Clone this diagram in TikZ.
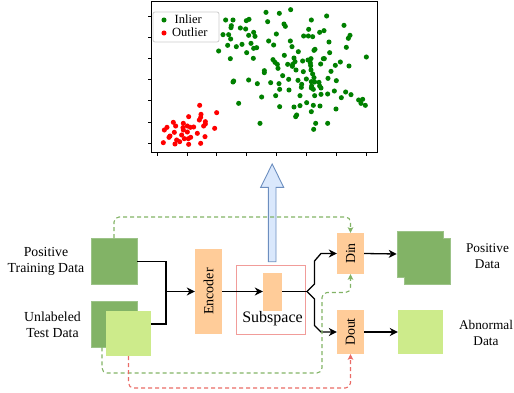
\documentclass[tikz,border=0pt]{standalone}
\usepackage{fontspec}
\setmainfont{Liberation Serif}
\usetikzlibrary{arrows.meta,calc}
\definecolor{dg}{HTML}{82B366}
\definecolor{dgb}{HTML}{9CC388}
\definecolor{lg}{HTML}{CDEB8B}
\definecolor{orf}{HTML}{FFCC99}
\definecolor{pk}{HTML}{F19C99}
\definecolor{rd}{HTML}{EA6B66}
\definecolor{bfill}{HTML}{DAE8FC}
\definecolor{bdraw}{HTML}{6C8EBF}
\definecolor{ptg}{HTML}{008000}
\definecolor{ptr}{HTML}{FF0000}
\tikzset{
  datbox/.style={rectangle, inner sep=0pt, minimum width=46pt, minimum height=46pt, fill=dg, draw=dgb, line width=0.6pt},
  lgbox/.style={rectangle, inner sep=0pt, minimum width=45pt, minimum height=45pt, fill=lg},
  orbox/.style={rectangle, inner sep=0pt, fill=orf, text=black},
  lbl/.style={align=center, inner sep=0pt, font=\fontsize{13.8}{16}\selectfont},
  rlbl/.style={align=center, inner sep=0pt, font=\fontsize{13.3}{16}\selectfont},
  ln/.style={line width=1.3pt},
  arr/.style={line width=1.3pt, -{Stealth[length=8pt,width=8pt,inset=2.5pt]}},
  gdash/.style={draw=dg, line width=1.1pt, dash pattern=on 4pt off 3pt, rounded corners=5pt, -{Stealth[length=5.5pt,width=5.5pt,inset=1pt]}},
  rdash/.style={draw=rd, line width=1.1pt, dash pattern=on 4pt off 3pt, rounded corners=5pt, -{Stealth[length=5.5pt,width=5.5pt,inset=1pt]}},
  tick/.style={line width=0.8pt}
}
\begin{document}
\begin{tikzpicture}[x=1pt,y=-1pt]
\useasboundingbox (0,0) rectangle (514,393);
% ---------- scatter plot ----------
\draw[line width=1pt] (151,1.5) rectangle (377,153);
\foreach \t in {16,37.2,58.4,79.6,100.8,122,143.2}
  \draw[tick] (151,\t) -- (147.5,\t);
\foreach \t in {157,186.9,216.8,246.7,276.6,306.5,336.4,366.3}
  \draw[tick] (\t,153) -- (\t,156.5);
\begin{scope}[shift={(140,0)},x=0.33333pt,y=-0.33333pt]
\foreach \a/\b in {378/37, 418/40, 452/29, 560/48, 514/60, 257/60, 279/60, 319/62, 327/58, 383/65, 432/72, 436/79, 612/76, 274/77, 273/83, 301/84, 317/87, 227/108, 249/104, 266/104, 272/117, 326/106, 341/97, 345/109, 409/102, 491/108, 505/108, 518/110, 539/97, 552/92, 506/88, 630/106, 625/115, 451/123, 386/123, 401/135, 263/136, 289/140, 306/133, 333/130, 341/145, 350/143, 567/126, 619/142, 236/153, 320/158, 456/140, 475/155, 522/151, 525/148, 569/158, 271/176, 340/175, 433/166, 462/174, 399/179, 405/187, 414/205, 412/193, 443/193, 458/193, 465/185, 457/199, 468/210, 488/183, 504/180, 513/176, 511/189, 512/197, 550/176, 553/176, 542/192, 586/196, 601/186, 627/198, 679/171, 373/212, 373/218, 428/227, 490/215, 513/210, 518/222, 522/233, 499/237, 573/214, 524/246, 281/243, 279/246, 326/240, 352/251, 392/248, 417/251, 446/238, 474/241, 485/253, 514/245, 515/258, 537/247, 539/258, 564/235, 589/242, 419/268, 447/270, 484/262, 514/264, 520/268, 543/264, 563/282, 583/273, 617/276, 633/284, 407/287, 365/291, 524/287, 604/293, 543/283, 480/287, 296/310, 419/320, 462/321, 480/317, 500/308, 520/316, 540/318, 514/335, 588/327, 656/300, 668/298, 663/310, 676/316, 467/350, 470/345, 527/370, 563/370, 360/370, 521/388}
  \fill[ptg] (\a,\b) circle[radius=2.55pt];
\foreach \a/\b in {179/316, 230/338, 183/343, 182/352, 146/350, 100/367, 130/370, 178/360, 196/365, 196/372, 191/378, 81/382, 73/390, 107/378, 129/383, 142/378, 151/382, 161/381, 130/390, 142/396, 224/385, 172/400, 195/410, 90/408, 103/397, 125/405, 152/412, 70/428, 105/432, 119/425, 146/433, 182/430, 145/416, 133/416, 110/420, 87/412}
  \fill[ptr] (\a,\b) circle[radius=2.55pt];
\end{scope}
% legend
\draw[black!20, fill=white, line width=0.8pt, rounded corners=2pt] (153,12) rectangle (219,42);
\fill[ptg] (164,20) circle[radius=2.55pt];
\fill[ptr] (164,33) circle[radius=2.55pt];
\node[anchor=west, inner sep=0pt, font=\fontsize{12.5}{14}\selectfont] (lin) at (174.5,19.5) {Inlier};
\node[anchor=west, inner sep=0pt, font=\fontsize{12.5}{14}\selectfont] (lout) at (172,32.5) {Outlier};
% ---------- big arrow ----------
\draw[bdraw, fill=bfill, line width=0.9pt, line join=miter]
  (268.3,261.7) -- (268.3,187.3) -- (260.7,187.3) -- (272.2,164) -- (283.7,187.3) -- (276,187.3) -- (276,261.7) -- cycle;
% ---------- pipeline ----------
\node[datbox] (ptd) at (114,261.5) {};
\node[datbox] (utd) at (114,324) {};
\node[lgbox] (lb) at (128.5,333.5) {};
\node[lbl] (ptdl) at (46,261) {Positive\\Training Data};
\node[lbl] (utdl) at (52.5,325) {Unlabeled\\Test Data};
\node[orbox, minimum width=27pt, minimum height=85pt] (enc) at (208.5,291.5) {\rotatebox{90}{\fontsize{14}{16}\selectfont Encoder}};
\node[rectangle, draw=pk, line width=1pt, minimum width=69pt, minimum height=69pt, inner sep=0pt] (sub) at (270.5,299.5) {};
\node[orbox, minimum width=19pt, minimum height=38pt] (sm) at (272.5,291.5) {};
\node[inner sep=0pt, font=\fontsize{16}{18}\selectfont] (subl) at (272.5,318.5) {Subspace};
\node[orbox, minimum width=27pt, minimum height=41pt] (din) at (350.5,253.5) {\rotatebox{90}{\fontsize{13.8}{16}\selectfont Din}};
\node[orbox, minimum width=27pt, minimum height=44pt] (dout) at (350.5,332) {\rotatebox{90}{\fontsize{13.8}{16}\selectfont Dout}};
\node[datbox] (pdb) at (420,254) {};
\node[datbox] (pdf) at (427.5,261.5) {};
\fill[dg] (pdb.south east) rectangle (pdf.north west);
\node[lgbox, minimum height=44pt] (abn) at (420.5,332) {};
\node[rlbl] (pdl) at (487.5,256) {Positive\\Data};
\node[rlbl] (abl) at (486,333) {Abnormal\\Data};
% connectors
\coordinate (j) at (166,291.5);
\draw[ln] (ptd.east) -| (j);
\draw[ln] (lb.east |- utd.center) -| (j);
\draw[arr] (j) -- (enc.west);
\draw[arr] (enc.east) -- (sm.west);
\coordinate (sp) at (307,291.5);
\draw[ln] (sm.east) -- (sp);
\draw[arr, line join=round] (sp) -- (314.5,284) -- (314.5,261) -- (321,253.5) -- (din.west);
\draw[arr, line join=round] (sp) -- (314.5,299) -- (314.5,325.5) -- (321,332) -- (dout.west);
\draw[arr] (din.east) -- (pdb.west);
\draw[arr] (dout.east) -- (abn.west);
% dashed
\draw[gdash] (ptd.north) -- (114,217) -- (350.5,217) -- (din.north);
\draw[gdash] ([xshift=-12pt]utd.south) -- (102,373) -- (322,373) -- (322,292.5) -- (350.5,292.5) -- (din.south);
\draw[rdash] (lb.south) -- (128.5,388) -- (350.5,388) -- (dout.south);
\end{tikzpicture}
\end{document}
